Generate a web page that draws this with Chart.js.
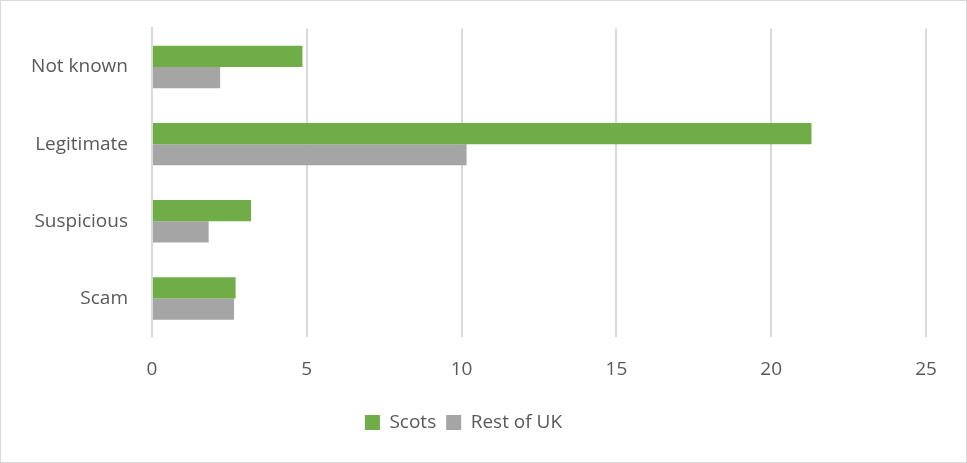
<!DOCTYPE html>
<html>
<head>
<meta charset="utf-8">
<script src="https://cdn.jsdelivr.net/npm/chart.js@4/dist/chart.umd.min.js"></script>
<style>
  html, body { margin: 0; padding: 0; background: #fff; }
  #wrap { position: relative; width: 965px; height: 461px; border: 1px solid #D9D9D9; }
</style>
</head>
<body>
<div id="wrap"><canvas id="c"></canvas></div>
<script>
const categories = ["Not known", "Legitimate", "Suspicious", "Scam"];
const scots = [4.86, 21.3, 3.2, 2.7];
const restOfUK = [2.2, 10.16, 1.83, 2.65];
const xTicks = [0, 5, 10, 15, 20, 25];

const labelFont = { family: "'Open Sans', 'Noto Sans', sans-serif", size: 19 };

new Chart(document.getElementById('c'), {
  type: 'bar',
  data: {
    labels: categories,
    datasets: [
      { label: 'Scots', data: scots, backgroundColor: '#70AD47' },
      { label: 'Rest of UK', data: restOfUK, backgroundColor: '#A5A5A5' }
    ]
  },
  options: {
    indexAxis: 'y',
    responsive: true,
    maintainAspectRatio: false,
    animation: false,
    datasets: { bar: { categoryPercentage: 0.55, barPercentage: 1.0 } },
    layout: { padding: { top: 13, right: 40, bottom: 20, left: 0 } },
    plugins: {
      tooltip: { enabled: false },
      legend: {
        position: 'bottom',
        labels: {
          color: '#595959',
          font: labelFont,
          boxWidth: 15,
          boxHeight: 15,
          padding: 10
        }
      }
    },
    scales: {
      x: {
        min: 0,
        max: 25,
        afterBuildTicks: s => { s.ticks = xTicks.map(v => ({ value: v })); },
        afterFit: s => { s.height = 66; },
        grid: { color: '#D9D9D9', lineWidth: 2, drawTicks: false },
        border: { display: false },
        ticks: { color: '#595959', font: labelFont, padding: 21 }
      },
      y: {
        afterFit: s => { s.width = 151; },
        grid: { display: false },
        border: { display: true, color: '#D9D9D9', width: 2 },
        ticks: { color: '#595959', font: labelFont, padding: 16 }
      }
    }
  }
});
</script>
</body>
</html>
